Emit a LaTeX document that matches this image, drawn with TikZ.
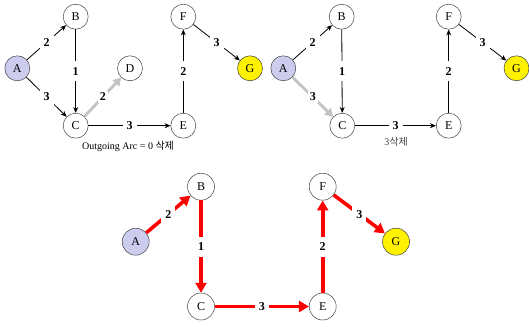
\documentclass[tikz,border=0pt]{standalone}
\usepackage{fontspec}
\setmainfont{Liberation Serif}
\newfontfamily\kor{Noto Sans CJK KR}
\usetikzlibrary{arrows.meta}
\definecolor{lav}{RGB}{204,204,238}
\definecolor{lgray}{RGB}{195,195,195}
\tikzset{
 vtx/.style={circle,draw=black!75,line width=0.5pt,minimum size=25pt,inner sep=0pt,font=\fontsize{12}{14}\selectfont},
 bigv/.style={minimum size=27pt},
 srcv/.style={fill=lav},
 goalv/.style={fill=yellow},
 wt/.style={fill=white,inner xsep=4pt,inner ysep=6pt,font=\bfseries\fontsize{12}{14}\selectfont},
 blk/.style={draw=black,line width=0.8pt,-{Stealth[length=6pt,width=5pt]}},
 gry/.style={draw=lgray,line width=2.8pt,-{Triangle[length=8pt,width=9pt]}},
 redarc/.style={draw=red,line width=3.6pt,-{Triangle[length=10pt,width=11pt]}},
 captxt/.style={font=\fontsize{10}{12}\selectfont}
}
\begin{document}
\begin{tikzpicture}[x=1pt,y=-1pt]
\useasboundingbox (0,0) rectangle (529,326);
% ---- top-left
\node[vtx,srcv] (a1) at (17.3,68.3) {A};
\node[vtx] (b1) at (75.7,16.7) {B};
\node[vtx] (c1) at (75.7,125.7) {C};
\node[vtx] (d1) at (130,68.3) {D};
\node[vtx] (e1) at (183.3,125.7) {E};
\node[vtx] (f1) at (183.3,16.7) {F};
\node[vtx,goalv] (g1) at (250,68.3) {G};
\draw[blk] (a1) -- node[wt]{2} (b1);
\draw[blk] (a1) -- node[wt]{3} (c1);
\draw[blk] (b1) -- node[wt]{1} (c1);
\draw[gry] (c1) -- node[wt,inner sep=2pt]{2} (d1);
\draw[blk] (c1) -- node[wt]{3} (e1);
\draw[blk] (e1) -- node[wt]{2} (f1);
\draw[blk] (f1) -- node[wt]{3} (g1);
\node[captxt] (t1) at (128,146.5) {Outgoing Arc = 0 {\kor 삭제}};
% ---- top-right
\node[vtx,srcv] (a2) at (283.3,68.3) {A};
\node[vtx] (b2) at (341.7,16.7) {B};
\node[vtx] (c2) at (342.3,125.7) {C};
\node[vtx] (e2) at (448.7,125.7) {E};
\node[vtx] (f2) at (448.7,16.7) {F};
\node[vtx,goalv] (g2) at (516.5,68.3) {G};
\draw[blk] (a2) -- node[wt]{2} (b2);
\draw[gry] (a2) -- node[wt,inner sep=2pt]{3} (c2);
\draw[blk] (b2) -- node[wt]{1} (c2);
\draw[blk] (c2) -- node[wt]{3} (e2);
\draw[blk] (e2) -- node[wt]{2} (f2);
\draw[blk] (f2) -- node[wt]{3} (g2);
\node[captxt,text=black!75] (t2) at (396,141.5) {3{\kor 삭제}};
% ---- bottom
\node[vtx,bigv,srcv] (a3) at (135.7,241.7) {A};
\node[vtx,bigv] (b3) at (201,186.7) {B};
\node[vtx,bigv] (c3) at (201,306.5) {C};
\node[vtx,bigv] (e3) at (322.7,306.5) {E};
\node[vtx,bigv] (f3) at (322.7,186.7) {F};
\node[vtx,bigv,goalv] (g3) at (396,241.7) {G};
\draw[redarc] (a3) -- node[wt]{2} (b3);
\draw[redarc] (b3) -- node[wt]{1} (c3);
\draw[redarc] (c3) -- node[wt]{3} (e3);
\draw[redarc] (e3) -- node[wt]{2} (f3);
\draw[redarc] (f3) -- node[wt]{3} (g3);
\end{tikzpicture}
\end{document}
